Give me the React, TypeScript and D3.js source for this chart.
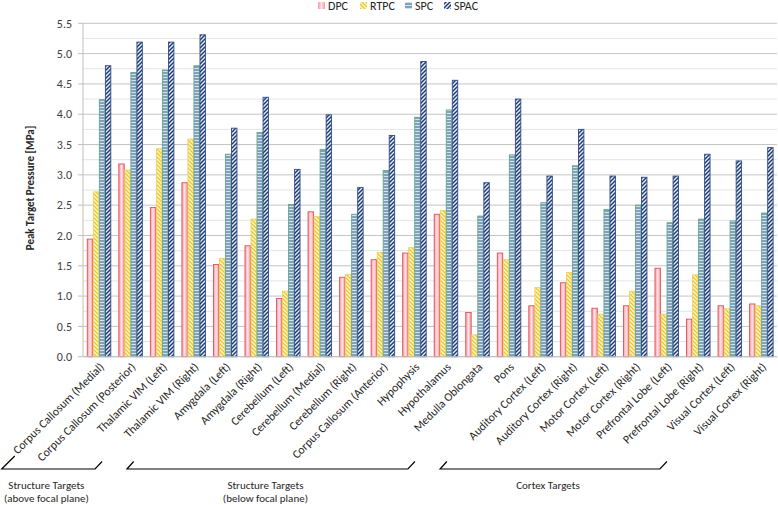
import React from "react";
import * as d3 from "d3";

const categories = [
  "Corpus Callosum (Medial)",
  "Corpus Callosum (Posterior)",
  "Thalamic VIM (Left)",
  "Thalamic VIM (Right)",
  "Amygdala (Left)",
  "Amygdala (Right)",
  "Cerebellum (Left)",
  "Cerebellum (Medial)",
  "Cerebellum (Right)",
  "Corpus Callosum (Anterior)",
  "Hypophysis",
  "Hypothalamus",
  "Medulla Oblongata",
  "Pons",
  "Auditory Cortex (Left)",
  "Auditory Cortex (Right)",
  "Motor Cortex (Left)",
  "Motor Cortex (Right)",
  "Prefrontal Lobe (Left)",
  "Prefrontal Lobe (Right)",
  "Visual Cortex (Left)",
  "Visual Cortex (Right)",
];

const seriesNames = ["DPC", "RTPC", "SPC", "SPAC"];

const dpc = [1.94, 3.18, 2.46, 2.87, 1.52, 1.83, 0.96, 2.39, 1.31, 1.6, 1.71, 2.35, 0.73, 1.71, 0.84, 1.22, 0.8, 0.84, 1.46, 0.62, 0.84, 0.87];
const rtpc = [2.72, 3.08, 3.43, 3.59, 1.62, 2.27, 1.08, 2.31, 1.36, 1.72, 1.8, 2.41, 0.36, 1.6, 1.14, 1.39, 0.7, 1.08, 0.7, 1.35, 0.79, 0.84];
const spc = [4.24, 4.69, 4.73, 4.8, 3.34, 3.7, 2.51, 3.42, 2.35, 3.07, 3.95, 4.07, 2.32, 3.33, 2.54, 3.15, 2.43, 2.5, 2.21, 2.27, 2.24, 2.37];
const spac = [4.8, 5.19, 5.19, 5.31, 3.77, 4.28, 3.09, 3.99, 2.79, 3.65, 4.87, 4.56, 2.87, 4.25, 2.98, 3.75, 2.98, 2.96, 2.98, 3.34, 3.23, 3.45];

const yTicks = [0, 0.5, 1, 1.5, 2, 2.5, 3, 3.5, 4, 4.5, 5, 5.5];
const yMinor = [0.25, 0.75, 1.25, 1.75, 2.25, 2.75, 3.25, 3.75, 4.25, 4.75, 5.25];

// bracket extents in category-index units (fractional), label lines
const groupStart = [-3.08, 0.89, 10.82];
const groupEnd = [-0.12, 9.8, 17.79];
const groupLines = [
  ["Structure Targets", "(above focal plane)"],
  ["Structure Targets", "(below focal plane)"],
  ["Cortex Targets"],
];

const seriesData = [dpc, rtpc, spc, spac];

const W = 778;
const H = 505;
const x0 = 83;
const x1 = 777;
const yTop = 23.3;
const yBot = 356.7;
const FONT = "Carlito, Lato, 'Open Sans', sans-serif";

const fills = ["url(#gDPC)", "url(#pRTPC)", "url(#pSPC)", "url(#pSPAC)"];
const strokes = ["#e0505a", "#f2d25a", "#5fa88a", "#2e4d8a"];

export default function App() {
  const x = d3.scaleBand<string>().domain(categories).range([x0, x1]).paddingInner(0.235).paddingOuter(0.12);
  const xs = d3.scaleBand<string>().domain(seriesNames).range([0, x.bandwidth()]).padding(0);
  const y = d3.scaleLinear().domain([0, 5.5]).range([yBot, yTop]);
  const step = x.step();
  const center = (i: number) => (x(categories[0]) as number) + x.bandwidth() / 2 + i * step;

  const legendX = [318, 360, 405, 444];
  const legendTextX = [328, 370, 415, 454];

  return (
    <svg width={W} height={H} style={{ position: "absolute", left: 0, top: 0, background: "#fff" }} fontFamily={FONT}>
      <defs>
        <linearGradient id="gDPC" x1="0" x2="1" y1="0" y2="0">
          <stop offset="0" stopColor="#f59aa3" />
          <stop offset="0.5" stopColor="#fde3e6" />
          <stop offset="1" stopColor="#f59aa3" />
        </linearGradient>
        <pattern id="pRTPC" patternUnits="userSpaceOnUse" width="4" height="4">
          <rect width="4" height="4" fill="#fff5cc" />
          <path d="M-1,-1 L5,5 M3,-1 L5,1 M-1,3 L1,5" stroke="#efc52c" strokeWidth="1.3" />
        </pattern>
        <pattern id="pSPC" patternUnits="userSpaceOnUse" width="4" height="3">
          <rect width="4" height="3" fill="#d6e2f0" />
          <line x1="0" x2="4" y1="1" y2="1" stroke="#3f6a8e" strokeWidth="1.1" />
        </pattern>
        <pattern id="pSPAC" patternUnits="userSpaceOnUse" width="4" height="4">
          <rect width="4" height="4" fill="#eef2fa" />
          <path d="M-1,5 L5,-1 M-1,1 L1,-1 M3,5 L5,3" stroke="#1f3a6e" strokeWidth="1.5" />
        </pattern>
      </defs>

      {yMinor.map((t) => (
        <line key={"m" + t} x1={x0} x2={x1} y1={y(t)} y2={y(t)} stroke="#e4e4e4" strokeWidth={1} />
      ))}
      {yTicks.map((t) => (
        <line key={"g" + t} x1={x0} x2={x1} y1={y(t)} y2={y(t)} stroke="#c4c4c4" strokeWidth={1} />
      ))}

      <line x1={x0} x2={x0} y1={yTop} y2={yBot} stroke="#bfbfbf" />
      {yTicks.map((t) => (
        <g key={"t" + t}>
          <line x1={x0 - 5} x2={x0} y1={y(t)} y2={y(t)} stroke="#bfbfbf" />
          <text x={72} y={y(t)} dy="0.35em" textAnchor="end" fontSize={12} fill="#404040">
            {t.toFixed(1)}
          </text>
        </g>
      ))}
      <text
        transform={`translate(30,${(yTop + yBot) / 2 - 2}) rotate(-90)`}
        textAnchor="middle"
        dy="0.35em"
        fontSize={11}
        fontWeight="bold"
        fill="#262626"
      >
        Peak Target Pressure [MPa]
      </text>

      {categories.map((c, i) => (
        <g key={c}>
          {seriesNames.map((s, j) => {
            const v = seriesData[j][i];
            const bx = (x(c) as number) + (xs(s) as number);
            return (
              <rect
                key={s}
                x={bx + 0.5}
                y={y(v)}
                width={xs.bandwidth() - 0.6}
                height={yBot - y(v)}
                fill={fills[j]}
                stroke={strokes[j]}
                strokeWidth={0.9}
              />
            );
          })}
        </g>
      ))}

      <line x1={x0} x2={x1} y1={yBot} y2={yBot} stroke="#bfbfbf" />

      {categories.map((c, i) => (
        <text
          key={"l" + c}
          transform={`translate(${center(i) + 3},${yBot + 8}) rotate(-45)`}
          textAnchor="end"
          dy="0.35em"
          fontSize={11.8}
          fill="#262626"
        >
          {c}
        </text>
      ))}

      {groupStart.map((gs, k) => {
        const left = center(gs);
        const right = center(groupEnd[k]);
        const by = 469;
        const mid = (left + right) / 2;
        const leftRise = k === 0 ? 13 : 7.5;
        return (
          <g key={"b" + k}>
            <path
              d={`M${left + leftRise * (k === 0 ? 1.0 : 0.9)},${by - leftRise} L${left},${by} L${right},${by} L${right + 7},${by - 7.5}`}
              fill="none"
              stroke="#000"
              strokeWidth={1.2}
            />
            {groupLines[k].map((ln, li) => (
              <text key={li} x={mid - 2} y={485 + li * 13} dy="0.35em" textAnchor="middle" fontSize={11} fill="#262626">
                {ln}
              </text>
            ))}
          </g>
        );
      })}

      {seriesNames.map((s, j) => (
        <g key={"lg" + s}>
          <rect x={legendX[j]} y={2} width={7} height={7} fill={fills[j]} stroke="none" />
          <text x={legendTextX[j]} y={6} dy="0.35em" fontSize={12} fill="#262626">
            {s}
          </text>
        </g>
      ))}
    </svg>
  );
}
